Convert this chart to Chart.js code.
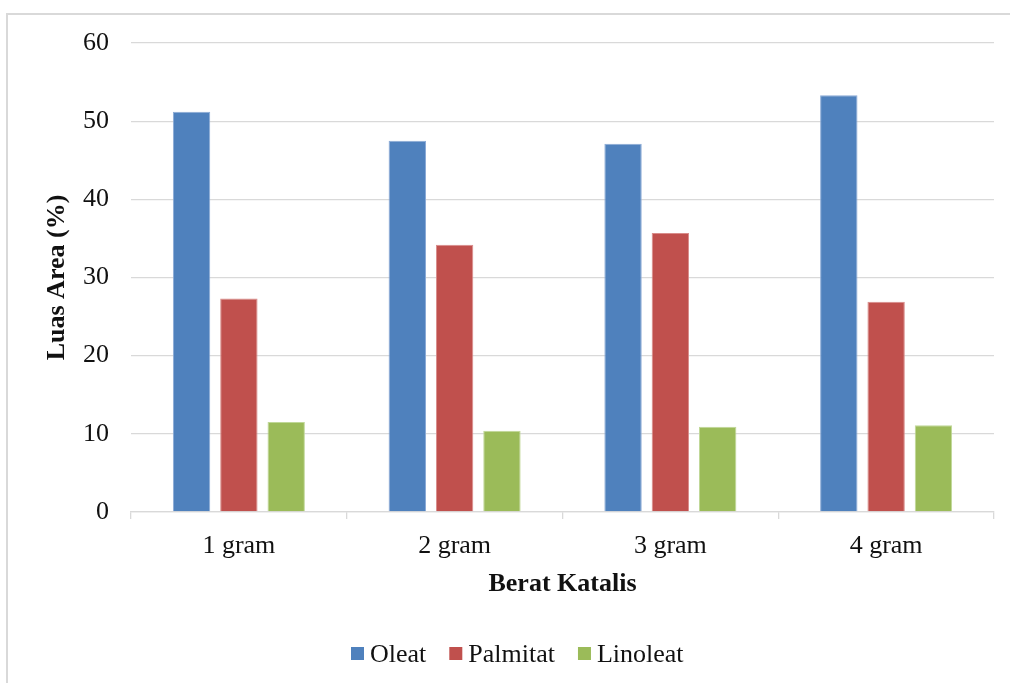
<!DOCTYPE html>
<html>
<head>
<meta charset="utf-8">
<script src="https://cdn.jsdelivr.net/npm/chart.js@4/dist/chart.umd.min.js"></script>
<style>
  html, body { margin: 0; padding: 0; background: #fff; overflow: hidden; }
  #wrap { position: relative; width: 1010px; height: 683px; }
  #frame { position: absolute; left: 6px; top: 13px; width: 1100px; height: 800px;
           border: 2px solid #d9d9d9; box-sizing: border-box; pointer-events: none; }
  canvas { position: absolute; left: 0; top: 0; }
</style>
</head>
<body>
<div id="wrap">
  <canvas id="chart" width="1010" height="683"></canvas>
  <div id="frame"></div>
</div>
<script>
// Catalyst weight categories and peak areas (%) of each fatty acid
const categories = ['1 gram', '2 gram', '3 gram', '4 gram'];
const oleat    = [51.2, 47.5, 47.1, 53.3];
const palmitat = [27.3, 34.2, 35.7, 26.9];
const linoleat = [11.5, 10.4, 10.9, 11.1];
const yTicks   = [0, 10, 20, 30, 40, 50, 60];

const serif = '"Liberation Serif", "Times New Roman", serif';
const ink = '#111';

// Legend row drawn below the axis title: square swatch, small gap, label
const legendRow = {
  id: 'legendRow',
  afterDraw(chart) {
    const ctx = chart.ctx;
    const box = 13, gap = 6, spacing = 23;
    ctx.save();
    ctx.font = '26px ' + serif;
    ctx.textBaseline = 'alphabetic';
    const items = chart.data.datasets.map(ds => ({
      label: ds.label, color: ds.backgroundColor, w: ctx.measureText(ds.label).width
    }));
    const total = items.reduce((s, it) => s + box + gap + it.w, 0) + spacing * (items.length - 1);
    let x = 351;
    const yBox = 647, yText = 662;
    items.forEach(it => {
      ctx.fillStyle = it.color;
      ctx.fillRect(x, yBox, box, box);
      x += box + gap;
      ctx.fillStyle = ink;
      ctx.fillText(it.label, x, yText);
      x += it.w + spacing;
    });
    ctx.restore();
  }
};

new Chart(document.getElementById('chart'), {
  type: 'bar',
  data: {
    labels: categories,
    datasets: [
      { label: 'Oleat',    data: oleat,    backgroundColor: '#4F81BD', borderColor: '#8aaad6', borderWidth: 1 },
      { label: 'Palmitat', data: palmitat, backgroundColor: '#C0504D', borderColor: '#d98c8a', borderWidth: 1 },
      { label: 'Linoleat', data: linoleat, backgroundColor: '#9BBB59', borderColor: '#c0d898', borderWidth: 1 }
    ]
  },
  options: {
    responsive: false,
    animation: false,
    devicePixelRatio: 1,
    layout: { padding: { left: 0, right: 16, top: 43, bottom: 83 } },
    datasets: { bar: { categoryPercentage: 0.658, barPercentage: 0.79 } },
    plugins: { legend: { display: false }, tooltip: { enabled: false } },
    scales: {
      x: {
        afterFit(scale) { scale.height = 88; },
        grid: { display: true, drawOnChartArea: false, drawTicks: true, tickLength: 7, color: '#d9d9d9', lineWidth: 1.3, offset: true },
        border: { display: true, color: '#d9d9d9', width: 1.3 },
        ticks: { color: ink, font: { family: serif, size: 26 }, padding: 12 },
        title: { display: true, text: 'Berat Katalis', color: ink, font: { family: serif, size: 26, weight: 'bold' }, padding: { top: 0, bottom: 0 } }
      },
      y: {
        min: 0, max: 60,
        afterFit(scale) { scale.width = 131; },
        afterBuildTicks(scale) { scale.ticks = yTicks.map(v => ({ value: v })); },
        grid: { color: '#d9d9d9', lineWidth: 1.3, drawTicks: false },
        border: { display: false },
        ticks: { color: ink, font: { family: serif, size: 26 }, padding: 22 },
        title: { display: true, text: 'Luas Area (%)', color: ink, font: { family: serif, size: 26, weight: 'bold' }, padding: { top: 42, bottom: 0 } }
      }
    }
  },
  plugins: [legendRow]
});
</script>
</body>
</html>
